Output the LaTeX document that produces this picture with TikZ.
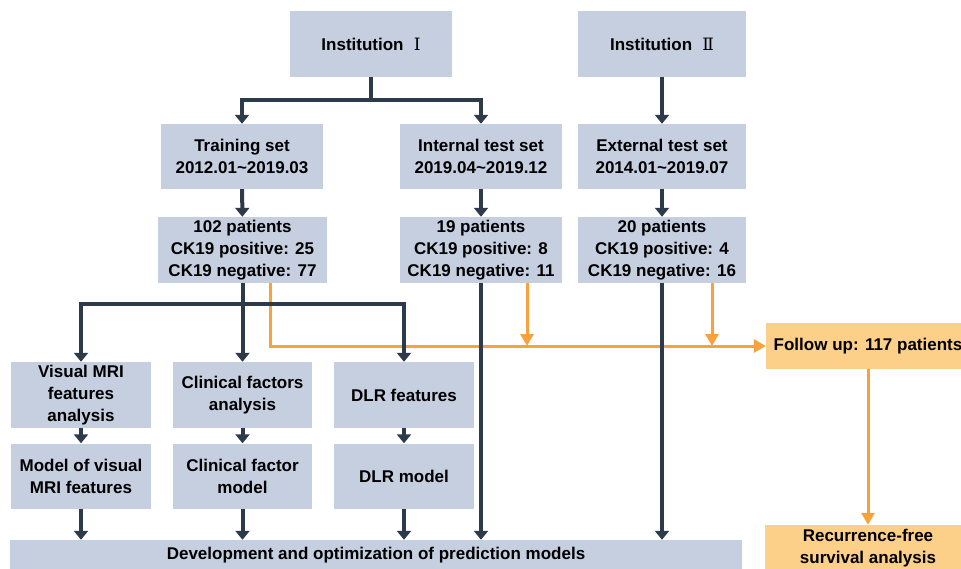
\documentclass[tikz,border=0pt]{standalone}
\usepackage{fontspec}
\setmainfont{Liberation Sans}
\newfontfamily\romfont{DejaVu Serif}
\usetikzlibrary{arrows.meta,positioning,calc}

\definecolor{boxblue}{HTML}{C5CFE0}
\definecolor{boxorange}{HTML}{FDD08A}
\definecolor{linedark}{HTML}{2C3A4A}
\definecolor{lineorange}{HTML}{F9A13A}

\tikzset{
  blk/.style={fill=boxblue, draw=none, align=center, inner sep=2pt,
    font=\fontsize{17}{22}\selectfont\bfseries},
  oblk/.style={blk, fill=boxorange},
  dk/.style={draw=linedark, line width=4pt},
  dkarr/.style={dk, -{Triangle[width=14pt,length=9pt]}},
  og/.style={draw=lineorange, line width=3pt},
  ogarr/.style={og, -{Triangle[width=13pt,length=12pt]}}
}

\begin{document}
\begin{tikzpicture}[x=1pt,y=-1pt]
  \clip (0,0) rectangle (961,569);

  % sources
  \node[blk, minimum width=162pt, minimum height=66pt] (inst1) at (371,44) {Institution\hspace{0.6em}{\romfont\mdseries Ⅰ}};
  \node[blk, minimum width=168pt, minimum height=66pt] (inst2) at (662,44) {Institution\hspace{0.6em}{\romfont\mdseries Ⅱ}};

  % data sets
  \node[blk, minimum width=162pt, minimum height=65pt] (train) at (242,156.5) {Training set\\2012.01\textasciitilde2019.03};
  \node[blk, minimum width=162pt, minimum height=65pt] (internal) at (481,156.5) {Internal test set\\2019.04\textasciitilde2019.12};
  \node[blk, minimum width=168pt, minimum height=65pt] (external) at (662,156.5) {External test set\\2014.01\textasciitilde2019.07};

  % patients
  \node[blk, minimum width=169pt, minimum height=66pt] (pat1) at (242.5,250) {102 patients\\CK19 positive: 25\\CK19 negative: 77};
  \node[blk, minimum width=162pt, minimum height=66pt] (pat2) at (481,250) {19 patients\\CK19 positive: 8\\CK19 negative: 11};
  \node[blk, minimum width=168pt, minimum height=66pt] (pat3) at (662,250) {20 patients\\CK19 positive: 4\\CK19 negative: 16};

  % analysis
  \node[blk, minimum width=140pt, minimum height=66pt] (visual) at (81,395) {Visual MRI\\features\\analysis};
  \node[blk, minimum width=139pt, minimum height=66pt] (clinical) at (242.5,395) {Clinical factors\\analysis};
  \node[blk, minimum width=140pt, minimum height=66pt] (dlr) at (404,395) {DLR features};

  % models
  \node[blk, minimum width=140pt, minimum height=65pt] (mvis) at (81,476) {Model of visual\\MRI features};
  \node[blk, minimum width=139pt, minimum height=65pt] (mclin) at (242.5,476) {Clinical factor\\model};
  \node[blk, minimum width=140pt, minimum height=65pt] (mdlr) at (404,476) {DLR model};

  \node[blk, minimum width=732pt, minimum height=30pt] (devel) at (376,555) {Development and optimization of prediction models};

  % follow up
  \node[oblk, minimum width=204pt, minimum height=46pt] (follow) at (868,346) {Follow up: 117 patients};
  \node[oblk, minimum width=206pt, minimum height=46pt] (rfs) at (868,548) {Recurrence-free\\survival analysis};

  % orange connectors
  \coordinate (o1) at (270,283);
  \coordinate (o2) at (527,283);
  \coordinate (o3) at (712,283);
  \coordinate (m2) at (527,346);
  \coordinate (m3) at (712,346);
  \draw[ogarr] (o1) |- (follow.west);
  \draw[ogarr] (o2) -- (m2);
  \draw[ogarr] (o3) -- (m3);
  \draw[ogarr] (follow) -- (rfs);

  % dark connectors
  \coordinate (j1) at (371,100);
  \coordinate (j2) at (242.5,304);
  \draw[dk] (inst1) -- (j1);
  \draw[dkarr] (j1) -| (train);
  \draw[dkarr] (j1) -| (internal);
  \draw[dkarr] (inst2) -- (external);
  \draw[dkarr] (train) -- (pat1);
  \draw[dkarr] (internal) -- (pat2);
  \draw[dkarr] (external) -- (pat3);
  \draw[dkarr] (pat1) -- (clinical);
  \draw[dkarr] (j2) -| (visual);
  \draw[dkarr] (j2) -| (dlr);
  \draw[dkarr] (pat2) -- (pat2 |- devel.north);
  \draw[dkarr] (pat3) -- (pat3 |- devel.north);
  \draw[dkarr] (visual) -- (mvis);
  \draw[dkarr] (clinical) -- (mclin);
  \draw[dkarr] (dlr) -- (mdlr);
  \draw[dkarr] (mvis) -- (mvis |- devel.north);
  \draw[dkarr] (mclin) -- (mclin |- devel.north);
  \draw[dkarr] (mdlr) -- (mdlr |- devel.north);
\end{tikzpicture}
\end{document}
